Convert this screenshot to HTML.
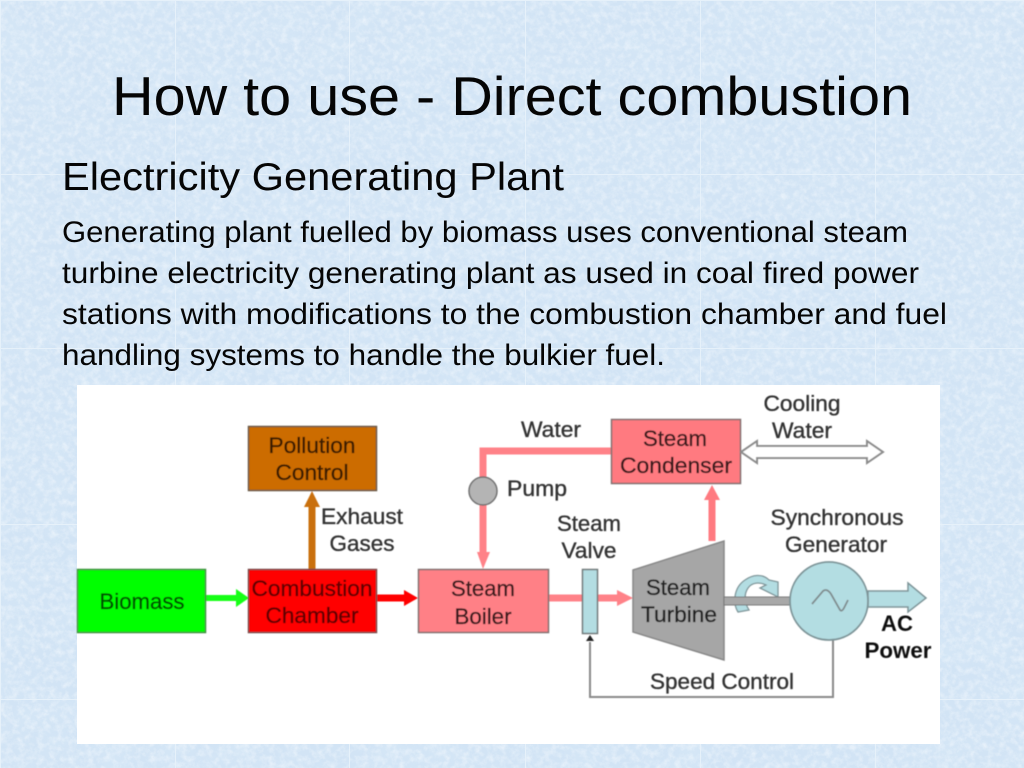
<!DOCTYPE html>
<html><head><meta charset="utf-8"><style>
html,body{margin:0;padding:0;width:1024px;height:768px;overflow:hidden;background:#d3e5f5}
svg{display:block}
.h{font-family:"Liberation Sans",sans-serif;fill:#050505}
.d{font-family:"Liberation Sans",sans-serif;font-size:22px;fill:#333;stroke:#333;stroke-width:.35px}
</style></head><body>
<svg width="1024" height="768" viewBox="0 0 1024 768" xmlns="http://www.w3.org/2000/svg">
<defs>
<filter id="tex" x="0" y="0" width="100%" height="100%">
<feTurbulence type="fractalNoise" baseFrequency="0.16" numOctaves="4" seed="7"/>
<feColorMatrix type="matrix" values="0 0 0 0 0.95  0 0 0 0 0.975  0 0 0 0 1  1.7 0 0 0 -0.66"/>
</filter>
<filter id="tex2" x="0" y="0" width="100%" height="100%">
<feTurbulence type="fractalNoise" baseFrequency="0.03" numOctaves="3" seed="3"/>
<feColorMatrix type="matrix" values="0 0 0 0 0.70  0 0 0 0 0.83  0 0 0 0 0.94  1.4 0 0 0 -0.5"/>
</filter>
<filter id="soft" x="-2%" y="-2%" width="104%" height="104%"><feGaussianBlur stdDeviation="0.6"/></filter>
</defs>
<rect width="1024" height="768" fill="#d2e4f5"/>
<rect width="1024" height="768" filter="url(#tex2)" opacity=".55"/>
<rect width="1024" height="768" filter="url(#tex)" opacity=".6"/>
<g stroke="#e6f1fa" stroke-width="1">
<path d="M0.5 0V768M175.5 0V768M349.5 0V768M525.5 0V768M700.5 0V768M875.5 0V768"/>
<path d="M0 0.5H1024M0 174.5H1024M0 348.5H1024M0 524.5H1024M0 699.5H1024"/>
</g>

<text class="h" x="112" y="115" font-size="55" textLength="800" lengthAdjust="spacingAndGlyphs">How to use - Direct combustion</text>
<text class="h" x="62" y="190" font-size="39" textLength="502" lengthAdjust="spacingAndGlyphs">Electricity Generating Plant</text>
<text class="h" x="62" y="242" font-size="30" textLength="846" lengthAdjust="spacingAndGlyphs">Generating plant fuelled by biomass uses conventional steam</text>
<text class="h" x="62" y="283" font-size="30" textLength="857" lengthAdjust="spacingAndGlyphs">turbine electricity generating plant as used in coal fired power</text>
<text class="h" x="62" y="324" font-size="30" textLength="885" lengthAdjust="spacingAndGlyphs">stations with modifications to the combustion chamber and fuel</text>
<text class="h" x="62" y="365" font-size="30" textLength="603" lengthAdjust="spacingAndGlyphs">handling systems to handle the bulkier fuel.</text>

<rect x="77" y="385" width="863" height="359" fill="#fff"/>
<g filter="url(#soft)">
<!-- connectors -->
<path d="M206 598H236" stroke="#19ff19" stroke-width="6" fill="none"/>
<polygon points="236,589 249,598 236,607" fill="#19ff19"/>
<path d="M312 569V503" stroke="#c96f0a" stroke-width="7" fill="none"/>
<polygon points="304,507 312,491 320,507" fill="#c96f0a"/>
<path d="M377 598H405" stroke="#ff0000" stroke-width="7" fill="none"/>
<polygon points="404,590 418,598 404,606" fill="#ff0000"/>
<path d="M611 451H483V552" stroke="#ff8288" stroke-width="7" fill="none"/>
<polygon points="477,552 483,569 490,552" fill="#ff8288"/>
<path d="M548 598H618" stroke="#ff8288" stroke-width="7" fill="none"/>
<polygon points="617,590 633,598 617,606" fill="#ff8288"/>
<path d="M712 541V498" stroke="#ff7a80" stroke-width="7" fill="none"/>
<polygon points="704,500 712,485 720,500" fill="#ff7a80"/>
<path d="M833 640V697H590V642" stroke="#8a8a8a" stroke-width="2" fill="none"/>
<polygon points="586,641 590,635 594,641" fill="#222"/>
<!-- boxes -->
<rect x="77.5" y="569.5" width="128" height="63" fill="#00ff00" stroke="#3f8f3f" stroke-width="1.5"/>
<rect x="248.5" y="426.5" width="128" height="64" fill="#cc6c00" stroke="#6a5a48" stroke-width="1.5"/>
<rect x="248.5" y="569.5" width="128" height="63" fill="#ff0000" stroke="#7a4a4a" stroke-width="1.5"/>
<rect x="418.5" y="569.5" width="130" height="63" fill="#ff8086" stroke="#807070" stroke-width="1.5"/>
<rect x="582.5" y="569.5" width="15" height="64" fill="#b3dde2" stroke="#707878" stroke-width="1.5"/>
<rect x="611.5" y="419.5" width="129" height="64" fill="#ff7a80" stroke="#807070" stroke-width="1.5"/>
<circle cx="483" cy="491" r="14" fill="#b4b4b4" stroke="#707070" stroke-width="1.5"/>
<polygon points="633,570 724,541 724,660 633,632" fill="#a6a6a6" stroke="#888" stroke-width="1.5"/>
<!-- double arrow -->
<polygon points="741,452 757,441 757,446 867,446 867,441 883,452 867,463 867,458 757,458 757,463" fill="#fff" stroke="#8c8c8c" stroke-width="2"/>
<!-- rotation arrow -->
<path d="M738 612C733 604 733 588 745 580C752 575 762 573 769 580L778 582V597L760 588L766 585C760 582 752 582 748 588C744 594 744 602 749 610Z" fill="#b3dde2" stroke="#7e9498" stroke-width="1.3"/>
<!-- shaft -->
<rect x="724" y="597" width="66" height="8" fill="#a8a8a8" stroke="#777" stroke-width="1"/>
<!-- generator -->
<polygon points="868,591 908,591 908,583 926,598 908,612 908,607 868,607" fill="#b3dde2" stroke="#7e9498" stroke-width="1.5"/>
<circle cx="829" cy="601" r="39" fill="#b3dde2" stroke="#7e9498" stroke-width="1.8"/>
<path d="M812 604L823 591Q827 588 831 594L840 610Q842 612 844 608L848 600" fill="none" stroke="#808c8e" stroke-width="1.8"/>
<!-- labels -->
<g text-anchor="middle">
<text class="d" x="142" y="609" style="fill:#064f06;stroke:#064f06" textLength="85" lengthAdjust="spacingAndGlyphs">Biomass</text>
<text class="d" x="312" y="453" style="fill:#3a1c00;stroke:#3a1c00" textLength="87" lengthAdjust="spacingAndGlyphs">Pollution</text>
<text class="d" x="312" y="480" style="fill:#3a1c00;stroke:#3a1c00" textLength="73" lengthAdjust="spacingAndGlyphs">Control</text>
<text class="d" x="312" y="596" style="fill:#5e0303;stroke:#5e0303" textLength="121" lengthAdjust="spacingAndGlyphs">Combustion</text>
<text class="d" x="312" y="623" style="fill:#5e0303;stroke:#5e0303" textLength="93" lengthAdjust="spacingAndGlyphs">Chamber</text>
<text class="d" x="483" y="596" style="fill:#3a1a1c;stroke:#3a1a1c" textLength="64" lengthAdjust="spacingAndGlyphs">Steam</text>
<text class="d" x="483" y="624" style="fill:#3a1a1c;stroke:#3a1a1c" textLength="57" lengthAdjust="spacingAndGlyphs">Boiler</text>
<text class="d" x="675" y="446" style="fill:#3a1a1c;stroke:#3a1a1c" textLength="64" lengthAdjust="spacingAndGlyphs">Steam</text>
<text class="d" x="676" y="473" style="fill:#3a1a1c;stroke:#3a1a1c" textLength="112" lengthAdjust="spacingAndGlyphs">Condenser</text>
<text class="d" x="678" y="595" style="fill:#222;stroke:#222" textLength="64" lengthAdjust="spacingAndGlyphs">Steam</text>
<text class="d" x="679" y="622" style="fill:#222;stroke:#222" textLength="76" lengthAdjust="spacingAndGlyphs">Turbine</text>
<text class="d" x="362" y="524" textLength="82" lengthAdjust="spacingAndGlyphs">Exhaust</text>
<text class="d" x="362" y="551" textLength="65" lengthAdjust="spacingAndGlyphs">Gases</text>
<text class="d" x="551" y="437" textLength="60" lengthAdjust="spacingAndGlyphs">Water</text>
<text class="d" x="537" y="496" textLength="60" lengthAdjust="spacingAndGlyphs">Pump</text>
<text class="d" x="589" y="531" textLength="64" lengthAdjust="spacingAndGlyphs">Steam</text>
<text class="d" x="589" y="558" textLength="55" lengthAdjust="spacingAndGlyphs">Valve</text>
<text class="d" x="802" y="411" textLength="77" lengthAdjust="spacingAndGlyphs">Cooling</text>
<text class="d" x="802" y="438" textLength="60" lengthAdjust="spacingAndGlyphs">Water</text>
<text class="d" x="837" y="525" textLength="133" lengthAdjust="spacingAndGlyphs">Synchronous</text>
<text class="d" x="836" y="552" textLength="102" lengthAdjust="spacingAndGlyphs">Generator</text>
<text class="d" x="722" y="689" textLength="144" lengthAdjust="spacingAndGlyphs">Speed Control</text>
<text class="d" x="897" y="631" font-weight="bold" style="fill:#111;stroke:none" textLength="32" lengthAdjust="spacingAndGlyphs">AC</text>
<text class="d" x="898" y="658" font-weight="bold" style="fill:#111;stroke:none" textLength="67" lengthAdjust="spacingAndGlyphs">Power</text>
</g>
</g>
</svg>
</body></html>
